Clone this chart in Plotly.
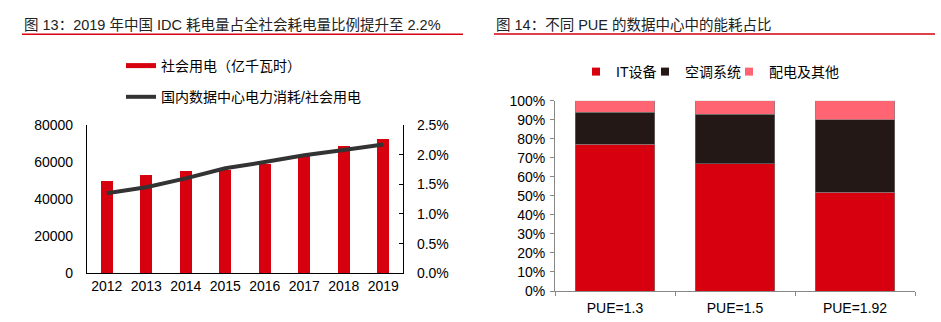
import plotly.graph_objects as go

# ---- data: left chart ----
years = ["2012", "2013", "2014", "2015", "2016", "2017", "2018", "2019"]
society_power = [49591, 53223, 55233, 55500, 59198, 63077, 68449, 72255]
idc_share = [0.0135, 0.0145, 0.0160, 0.0177, 0.01875, 0.0199, 0.0208, 0.0217]

# ---- data: right chart ----
pue_labels = ["PUE=1.3", "PUE=1.5", "PUE=1.92"]
it_equip = [0.77, 0.67, 0.52]
aircon = [0.17, 0.26, 0.38]
power_other = [0.06, 0.07, 0.10]

RED = "#D7000F"
BLACK = "#231815"
PINK = "#FF6473"
LINE = "#333333"
FONT = "Arial, 'Liberation Sans', 'Noto Sans CJK SC', sans-serif"

W, H = 941, 322

def px(x):
    return x / W

def py(y):
    return 1 - y / H

fig = go.Figure()

# left bars
fig.add_trace(go.Bar(x=years, y=society_power, marker=dict(color=RED, line=dict(width=0)),
                     width=0.3, name="社会用电（亿千瓦时）", showlegend=False,
                     xaxis="x", yaxis="y"))
# legend proxy for bars (drawn as thick line like the reference)
fig.add_trace(go.Scatter(x=[None], y=[None], mode="lines", line=dict(color=RED, width=5),
                         name="社会用电（亿千瓦时）", legend="legend", legendgroup="a",
                         xaxis="x", yaxis="y"))
fig.add_trace(go.Scatter(x=years, y=idc_share, mode="lines", line=dict(color=LINE, width=4),
                         name="国内数据中心电力消耗/社会用电", legend="legend", legendgroup="b",
                         xaxis="x", yaxis="y2"))

# right stacked bars
right_series = [(it_equip, RED, "IT设备", "legend2"),
                (aircon, BLACK, "空调系统", "legend3"),
                (power_other, PINK, "配电及其他", "legend4")]
for vals, col, nm, lg in right_series:
    fig.add_trace(go.Bar(x=pue_labels, y=vals, marker=dict(color=col, line=dict(color="#7f7f7f", width=0.6)),
                         width=0.66, name=nm, showlegend=False, xaxis="x2", yaxis="y3"))
    fig.add_trace(go.Scatter(x=[None], y=[None], mode="markers",
                             marker=dict(symbol="square", size=8, color=col),
                             name=nm, legend=lg, xaxis="x2", yaxis="y3"))

small_legend = dict(yanchor="top", orientation="h", itemwidth=30, font=dict(size=14),
                    bgcolor="rgba(0,0,0,0)")

fig.update_layout(
    width=W, height=H,
    margin=dict(l=0, r=0, t=0, b=0, autoexpand=False),
    paper_bgcolor="white", plot_bgcolor="white",
    font=dict(family=FONT, size=14, color="#000000"),
    barmode="stack",
    xaxis=dict(domain=[px(87), px(403)], anchor="y", type="category", showline=True,
               linecolor="#000000", linewidth=1.2, ticks="", showgrid=False,
               tickfont=dict(size=14), automargin=False),
    yaxis=dict(domain=[py(273.3), py(125)], anchor="x", range=[0, 80000], dtick=20000,
               showline=True, linecolor="#000000", linewidth=1.2, ticks="", showgrid=False,
               zeroline=False, ticklabelstandoff=10, tickformat="d", automargin=False),
    yaxis2=dict(overlaying="y", side="right", anchor="x", range=[0, 0.025], dtick=0.005,
                tickformat=".1%", showline=True, linecolor="#000000", linewidth=1.2,
                ticks="inside", ticklen=4, tickcolor="#000000", showgrid=False,
                zeroline=False, ticklabelstandoff=10, automargin=False),
    xaxis2=dict(domain=[px(555), px(915)], anchor="y3", type="category", showline=True,
                linecolor="#888888", linewidth=1, ticks="outside", ticklen=4,
                tickcolor="#888888", tickson="boundaries", showgrid=False, automargin=False,
                ticklabelstandoff=4),
    yaxis3=dict(domain=[py(291), py(100.7)], anchor="x2", range=[0, 1], dtick=0.1,
                tickformat=".0%", showline=True, linecolor="#888888", linewidth=1,
                ticks="outside", ticklen=4, tickcolor="#888888", showgrid=False,
                zeroline=False, automargin=False, ticklabelstandoff=2),
    legend=dict(x=px(121), y=py(50), xanchor="left", yanchor="top", orientation="v",
                itemwidth=30, tracegroupgap=10, font=dict(size=14), bgcolor="rgba(0,0,0,0)"),
    legend2=dict(x=px(576), y=py(56), xanchor="left", **small_legend),
    legend3=dict(x=px(645), y=py(56), xanchor="left", **small_legend),
    legend4=dict(x=px(729), y=py(56), xanchor="left", **small_legend),
    showlegend=True,
)

# titles and red rules
fig.add_annotation(text="图 13：2019 年中国 IDC 耗电量占全社会耗电量比例提升至 2.2%",
                   xref="paper", yref="paper", x=px(22), y=py(25), xanchor="left", yanchor="middle",
                   showarrow=False, font=dict(size=14.5, color="#222222"))
fig.add_annotation(text="图 14：不同 PUE 的数据中心中的能耗占比",
                   xref="paper", yref="paper", x=px(494), y=py(25), xanchor="left", yanchor="middle",
                   showarrow=False, font=dict(size=14.5, color="#222222"))
fig.add_shape(type="line", xref="paper", yref="paper", x0=px(22), x1=px(463), y0=py(34.3), y1=py(34.3),
              line=dict(color=RED, width=1.5))
fig.add_shape(type="line", xref="paper", yref="paper", x0=px(494), x1=px(935), y0=py(34), y1=py(34),
              line=dict(color=RED, width=1.5))

fig.write_html("out.html")
